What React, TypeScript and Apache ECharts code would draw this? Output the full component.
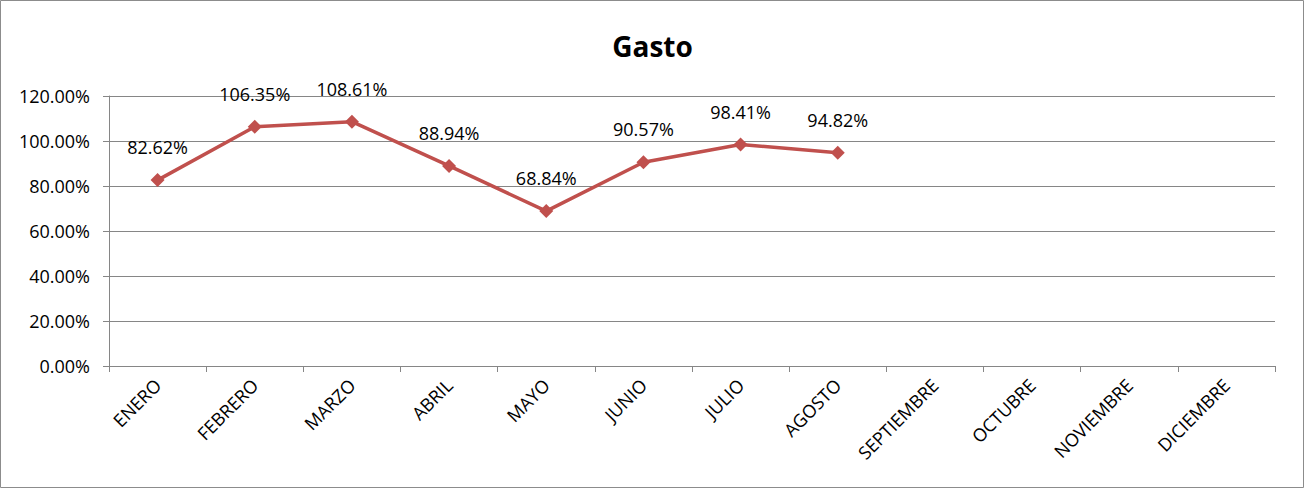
import React, { useEffect, useRef } from "react";
import * as echarts from "echarts";

const categories = ["ENERO", "FEBRERO", "MARZO", "ABRIL", "MAYO", "JUNIO", "JULIO", "AGOSTO", "SEPTIEMBRE", "OCTUBRE", "NOVIEMBRE", "DICIEMBRE"];
const gastoValues: (number | null)[] = [82.62, 106.35, 108.61, 88.94, 68.84, 90.57, 98.41, 94.82, null, null, null, null];
const yTicks = { min: 0, max: 120, interval: 20 };

export default function App() {
  const ref = useRef<HTMLDivElement>(null);
  useEffect(() => {
    document.body.style.margin = "0";
    const chart = echarts.init(ref.current!, undefined, { renderer: "svg" });
    const font = "'Open Sans', 'Liberation Sans', sans-serif";
    chart.setOption({
      animation: false,
      backgroundColor: "#ffffff",
      title: {
        text: "Gasto",
        left: "center",
        top: 27,
        textStyle: { fontFamily: font, fontSize: 28, fontWeight: "bold", color: "#000" },
      },
      graphic: [
        {
          type: "rect",
          shape: { x: 0.5, y: 0.5, width: 1303, height: 487 },
          style: { fill: "none", stroke: "#8c8c8c", lineWidth: 1 },
          silent: true,
        },
      ],
      grid: { left: 109, right: 30, top: 96, bottom: 123, containLabel: false },
      xAxis: {
        type: "category",
        data: categories,
        boundaryGap: true,
        axisLine: { lineStyle: { color: "#868686", width: 1 } },
        axisTick: { show: true, length: 6, alignWithLabel: false, lineStyle: { color: "#868686" } },
        axisLabel: {
          rotate: 45,
          interval: 0,
          margin: 16,
          color: "#000",
          fontFamily: font,
          fontSize: 18,
        },
        splitLine: { show: false },
      },
      yAxis: {
        type: "value",
        min: yTicks.min,
        max: yTicks.max,
        interval: yTicks.interval,
        axisLine: { show: true, lineStyle: { color: "#868686", width: 1 } },
        axisTick: { show: true, length: 6, inside: false, lineStyle: { color: "#868686" } },
        axisLabel: {
          formatter: (v: number) => v.toFixed(2) + "%",
          color: "#000",
          fontFamily: font,
          fontSize: 18,
          margin: 19,
        },
        splitLine: { show: true, lineStyle: { color: "#868686", width: 1 } },
      },
      series: [
        {
          name: "Gasto",
          type: "line",
          data: gastoValues,
          connectNulls: false,
          symbol: "diamond",
          symbolSize: 14,
          itemStyle: { color: "#C0504D" },
          lineStyle: { color: "#C0504D", width: 3.5 },
          label: {
            show: true,
            position: "top",
            distance: 17,
            formatter: (p: any) => (p.value == null ? "" : Number(p.value).toFixed(2) + "%"),
            color: "#000",
            fontFamily: font,
            fontSize: 18,
          },
        },
      ],
    });
    return () => chart.dispose();
  }, []);
  return <div ref={ref} style={{ width: 1305, height: 489 }} />;
}
